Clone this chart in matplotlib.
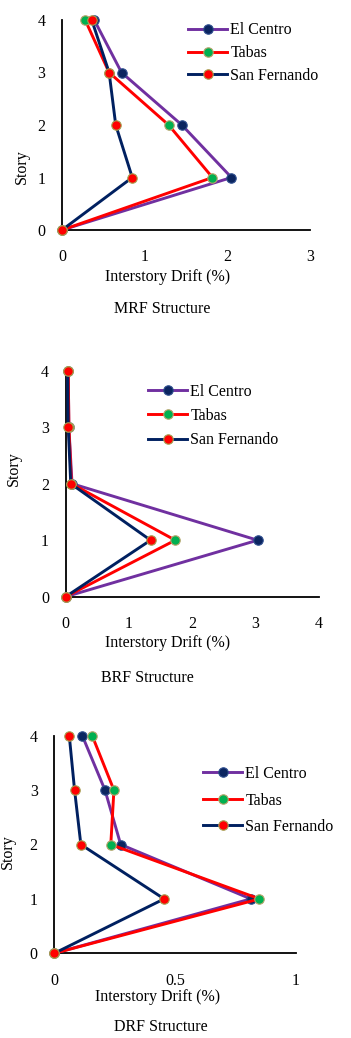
import matplotlib
matplotlib.use("Agg")
import matplotlib.pyplot as plt

plt.rcParams['font.family'] = ['Liberation Serif', 'DejaVu Serif']

stories = [0, 1, 2, 3, 4]
series_names = ["El Centro", "Tabas", "San Fernando"]

# interstory drift (%) per story
mrf_el_centro = [0, 2.05, 1.45, 0.72, 0.39]
mrf_tabas = [0, 1.82, 1.29, 0.57, 0.28]
mrf_san_fernando = [0, 0.85, 0.65, 0.57, 0.36]

brf_el_centro = [0, 3.03, 0.10, 0.05, 0.04]
brf_tabas = [0, 1.73, 0.09, 0.05, 0.04]
brf_san_fernando = [0, 1.34, 0.08, 0.04, 0.03]

drf_el_centro = [0, 0.814, 0.275, 0.21, 0.116]
drf_tabas = [0, 0.85, 0.234, 0.247, 0.157]
drf_san_fernando = [0, 0.455, 0.11, 0.084, 0.062]

mrf_xticks = [0, 1, 2, 3]
brf_xticks = [0, 1, 2, 3, 4]
drf_xticks = [0, 0.5, 1]
drf_xticklabels = ["0", "0.5", "1"]

line_colors = ["#7030a0", "#ff0000", "#002060"]
marker_colors = ["#0b2560", "#00b050", "#ff0000"]
edge_colors = ["#2f4f8f", "#b5a46a", "#a5a050"]

W, H = 351, 1038
FS = 11.5
fig = plt.figure(figsize=(W / 100, H / 100), dpi=100)


def px_axes(left, right, top, bottom):
    return fig.add_axes([left / W, 1 - bottom / H, (right - left) / W, (bottom - top) / H])


def panel(ax, data, xticks, xticklabels, title, lab_x, lab_y, tit_x, tit_y,
          ylab_x, ylab_y, leg_left, leg_top, leg_space):
    for vals, name, lc, mc, ec in zip(data, series_names, line_colors, marker_colors, edge_colors):
        ax.plot(vals, stories, color=lc, lw=2.1, marker='o', ms=6.8, mfc=mc, mec=ec,
                mew=0.8, label=name, clip_on=False, zorder=3)
    ax.set_xlim(xticks[0], xticks[-1])
    ax.set_ylim(0, 4)
    ax.set_xticks(xticks)
    ax.set_xticklabels(xticklabels)
    ax.set_yticks([0, 1, 2, 3, 4])
    for s in ["top", "right"]:
        ax.spines[s].set_visible(False)
    for s in ["left", "bottom"]:
        ax.spines[s].set_linewidth(1.3)
    ax.tick_params(axis='x', length=0, pad=14, labelsize=FS)
    ax.tick_params(axis='y', length=0, pad=12, labelsize=FS)
    fig.text(lab_x / W, 1 - lab_y / H, "Interstory Drift (%)", ha='center', va='center', fontsize=FS)
    fig.text(tit_x / W, 1 - tit_y / H, title, ha='center', va='center', fontsize=FS)
    fig.text(ylab_x / W, 1 - ylab_y / H, "Story", ha='center', va='center', rotation=90, fontsize=FS)
    ax.legend(loc='upper left', bbox_to_anchor=(leg_left / W, 1 - leg_top / H),
              bbox_transform=fig.transFigure, frameon=False, fontsize=FS,
              handlelength=2.45, handletextpad=0.2, labelspacing=leg_space, borderpad=0,
              borderaxespad=0)


ax1 = px_axes(62, 310, 20, 230)
panel(ax1, [mrf_el_centro, mrf_tabas, mrf_san_fernando], mrf_xticks,
      [str(t) for t in mrf_xticks], "MRF Structure",
      168, 277, 162, 309, 22, 167, 188, 22.5, 0.42)

ax2 = px_axes(65.7, 319, 370.7, 596.7)
panel(ax2, [brf_el_centro, brf_tabas, brf_san_fernando], brf_xticks,
      [str(t) for t in brf_xticks], "BRF Structure",
      168, 642.7, 147.5, 677.7, 14, 468.3, 148, 383.5, 0.52)

ax3 = px_axes(54.3, 295.7, 735.7, 953.3)
panel(ax3, [drf_el_centro, drf_tabas, drf_san_fernando], drf_xticks,
      drf_xticklabels, "DRF Structure",
      158, 996.7, 161, 1026.7, 8.3, 851.7, 203, 766, 0.66)

fig.savefig("out.png", dpi=100)
